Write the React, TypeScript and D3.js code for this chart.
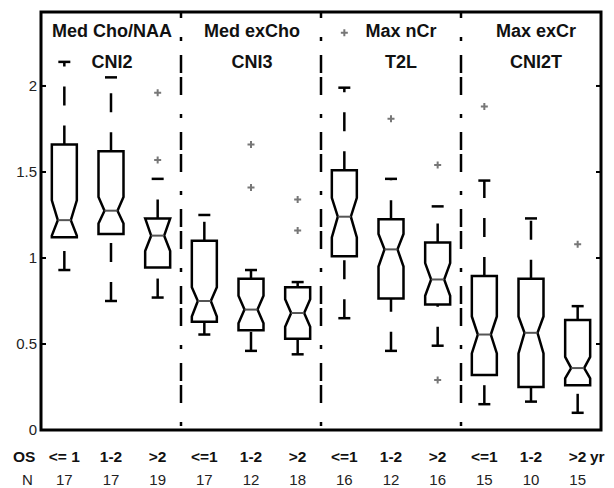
import React from "react";
import * as d3 from "d3";

const groupLabels = ["<= 1", "1-2", ">2", "<=1", "1-2", ">2", "<=1", "1-2", ">2", "<=1", "1-2", ">2"];
const nCounts = [17, 17, 19, 17, 12, 18, 16, 12, 16, 15, 10, 15];
const lowWhisker = [0.93, 0.75, 0.77, 0.555, 0.46, 0.44, 0.65, 0.46, 0.49, 0.15, 0.165, 0.1];
const q1 = [1.12, 1.14, 0.945, 0.63, 0.58, 0.53, 1.01, 0.765, 0.73, 0.32, 0.25, 0.26];
const notchLo = [1.13, 1.2, 1.04, 0.66, 0.62, 0.6, 1.12, 0.95, 0.78, 0.445, 0.445, 0.3];
const medians = [1.22, 1.275, 1.13, 0.75, 0.7, 0.68, 1.24, 1.05, 0.875, 0.555, 0.565, 0.36];
const notchHi = [1.335, 1.355, 1.23, 0.83, 0.78, 0.76, 1.35, 1.14, 0.97, 0.66, 0.66, 0.425];
const q3 = [1.66, 1.62, 1.23, 1.1, 0.88, 0.83, 1.51, 1.225, 1.09, 0.895, 0.88, 0.64];
const highWhisker = [2.14, 2.05, 1.46, 1.25, 0.93, 0.86, 1.99, 1.46, 1.3, 1.45, 1.23, 0.72];
const outliers: number[][] = [[], [], [1.96, 1.57], [], [1.66, 1.41], [1.34, 1.16], [2.31], [1.81], [1.54, 0.29], [1.88], [], [1.08]];
const panelTitles = ["Med Cho/NAA", "Med exCho", "Max nCr", "Max exCr"];
const panelSubtitles = ["CNI2", "CNI3", "T2L", "CNI2T"];
const yTicks = [0, 0.5, 1, 1.5, 2];

const W = 614;
const H = 488;
const L = 41, R = 601, T = 12, B = 430;
const FONT = "'Liberation Sans', Arial, Helvetica, sans-serif";

export default function App() {
  const x = d3.scaleBand<number>().domain(d3.range(12)).range([L, R]);
  const y = d3.scaleLinear().domain([0, 2.43]).range([B, T]);
  const cx = (i: number) => (x(i) as number) + x.bandwidth() / 2;
  const hw = 12.5;
  const nw = 6.5;
  const capW = 6;
  const titleOffsets = [1, 1, 10, 5];

  const boxPath = (i: number) => {
    const c = cx(i);
    const p = d3.path();
    p.moveTo(c - hw, y(q3[i]));
    p.lineTo(c - hw, y(notchHi[i]));
    p.lineTo(c - nw, y(medians[i]));
    p.lineTo(c - hw, y(notchLo[i]));
    p.lineTo(c - hw, y(q1[i]));
    p.lineTo(c + hw, y(q1[i]));
    p.lineTo(c + hw, y(notchLo[i]));
    p.lineTo(c + nw, y(medians[i]));
    p.lineTo(c + hw, y(notchHi[i]));
    p.lineTo(c + hw, y(q3[i]));
    p.closePath();
    return p.toString();
  };

  return (
    <svg width={W} height={H} style={{ position: "absolute", left: 0, top: 0, background: "#fff" }} fontFamily={FONT}>
      <rect x={0} y={0} width={W} height={H} fill="#fff" />
      {/* separators */}
      {[3, 6, 9].map((k) => (
        <line key={k} x1={x(k) as number} x2={x(k) as number} y1={T} y2={B}
          stroke="#000" strokeWidth={2.5} strokeDasharray="4,14,18,4,18,19" strokeDashoffset={52} />
      ))}
      {/* boxes */}
      {groupLabels.map((_, i) => {
        const c = cx(i);
        return (
          <g key={i}>
            <path d={`M${c},${y(lowWhisker[i])}L${c},${y(q1[i])}`} stroke="#000" strokeWidth={2.5} strokeDasharray="19,20" fill="none" />
            <path d={`M${c},${y(q3[i])}L${c},${y(highWhisker[i])}`} stroke="#000" strokeWidth={2.5} strokeDasharray="19,20" fill="none" />
            <line x1={c - capW} x2={c + capW} y1={y(lowWhisker[i])} y2={y(lowWhisker[i])} stroke="#000" strokeWidth={2.5} />
            <line x1={c - capW} x2={c + capW} y1={y(highWhisker[i])} y2={y(highWhisker[i])} stroke="#000" strokeWidth={2.5} />
            <path d={boxPath(i)} fill="none" stroke="#000" strokeWidth={2.5} strokeLinejoin="miter" />
            <line x1={c - nw} x2={c + nw} y1={y(medians[i])} y2={y(medians[i])} stroke="#555" strokeWidth={2} />
            {outliers[i].map((v, j) => (
              <path key={j} d={`M${c - 3.5},${y(v)}h7M${c},${y(v) - 3.5}v7`} stroke="#777" strokeWidth={2} />
            ))}
          </g>
        );
      })}
      {/* frame */}
      <rect x={L} y={T} width={R - L} height={B - T} fill="none" stroke="#000" strokeWidth={3} />
      {/* y ticks */}
      {yTicks.map((t) => (
        <g key={t}>
          <line x1={L} x2={L + 5} y1={y(t)} y2={y(t)} stroke="#000" strokeWidth={2} />
          <line x1={R} x2={R - 5} y1={y(t)} y2={y(t)} stroke="#000" strokeWidth={2} />
          <text x={37} y={y(t) + 5} textAnchor="end" fontSize={15} fill="#222">{t}</text>
        </g>
      ))}
      {/* panel titles */}
      {panelTitles.map((t, k) => (
        <g key={t}>
          <text x={cx(k * 3 + 1) + titleOffsets[k]} y={37} textAnchor="middle" fontSize={18} fontWeight="bold" fill="#111">{t}</text>
          <text x={cx(k * 3 + 1) + titleOffsets[k]} y={68} textAnchor="middle" fontSize={18} fontWeight="bold" fill="#111">{panelSubtitles[k]}</text>
        </g>
      ))}
      {/* bottom labels */}
      <text x={13} y={462} fontSize={15.5} fontWeight="bold" fill="#111">OS</text>
      <text x={22} y={485} fontSize={15} fill="#222">N</text>
      {groupLabels.map((g, i) => (
        <text key={"g" + i} x={cx(i)} y={462} textAnchor="middle" fontSize={15.5} fontWeight="bold" fill="#111">{g}</text>
      ))}
      <text x={590} y={462} fontSize={15.5} fontWeight="bold" fill="#111">yr</text>
      {nCounts.map((n, i) => (
        <text key={"n" + i} x={cx(i)} y={485} textAnchor="middle" fontSize={15} fill="#222">{n}</text>
      ))}
    </svg>
  );
}
